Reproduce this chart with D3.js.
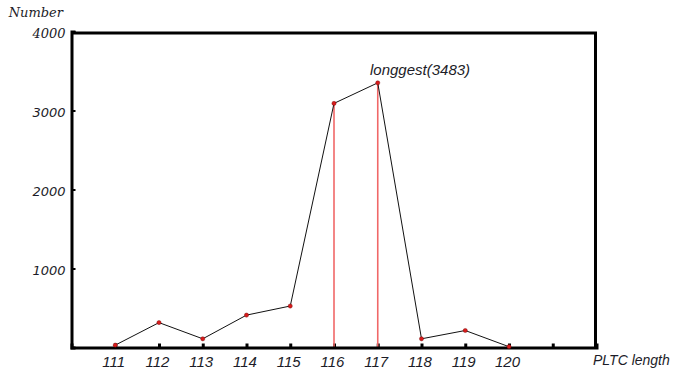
<!DOCTYPE html>
<html>
<head>
<meta charset="utf-8">
<script src="https://cdn.jsdelivr.net/npm/d3@7"></script>
<style>
  html, body { margin: 0; padding: 0; background: #fff; }
  svg { display: block; }
</style>
</head>
<body>
<svg id="chart" width="689" height="373"></svg>
<script>
const lengths = [111, 112, 113, 114, 115, 116, 117, 118, 119, 120];
const counts  = [30, 315, 110, 410, 525, 3090, 3350, 110, 215, 10];
const highlighted = [116, 117];
const xTicks = [111, 112, 113, 114, 115, 116, 117, 118, 119, 120, 121];
const xTickLabels = ["111", "112", "113", "114", "115", "116", "117", "118", "119", "120", ""];
const yTicks = [1000, 2000, 3000, 4000];
const peakLabel = "longgest(3483)";
const yTitle = "Number";
const xTitle = "PLTC length";

const svg = d3.select("#chart");
const x = d3.scaleLinear().domain([110, 122]).range([71.5, 596.5]);
const y = d3.scaleLinear().domain([0, 4000]).range([347.5, 31.5]);
const txt = "#1c1c28";

// frame top + right
svg.append("path")
  .attr("d", `M${x(110)},33 H595.5 V${y(0)}`)
  .attr("fill", "none").attr("stroke", "#000").attr("stroke-width", 3);

// y axis
const yAx = svg.append("g").attr("transform", `translate(${x(110)},0)`)
  .call(d3.axisLeft(y).tickValues(yTicks).tickSize(-4).tickPadding(10).tickFormat(d3.format("d")));
yAx.select(".domain").attr("stroke", "#000").attr("stroke-width", 3);
yAx.selectAll(".tick line").attr("stroke", "#000").attr("stroke-width", 2);
yAx.selectAll(".tick text")
  .attr("fill", txt)
  .attr("x", -6)
  .attr("dy", "0.45em")
  .style("font-family", d => d === 4000 ? "'DejaVu Serif', serif" : "'DejaVu Sans', sans-serif")
  .style("font-style", "italic")
  .style("font-size", "13px");

// x axis
const xAx = svg.append("g").attr("transform", `translate(0,${y(0)})`)
  .call(d3.axisBottom(x).tickValues(xTicks).tickSize(-4).tickPadding(0)
    .tickFormat((d, i) => xTickLabels[i]));
xAx.select(".domain").attr("stroke", "#000").attr("stroke-width", 3);
xAx.selectAll(".tick line").attr("stroke", "#000").attr("stroke-width", 3);
xAx.selectAll(".tick text")
  .attr("fill", txt)
  .attr("y", 19.5).attr("dy", 0).attr("dx", -2)
  .style("font-family", "'Liberation Sans', Arial, sans-serif")
  .style("font-style", "italic")
  .style("font-size", "15px");

// red drop lines
svg.append("g").selectAll("line")
  .data(lengths.map((l, i) => ({ l, v: counts[i] })).filter(d => highlighted.includes(d.l)))
  .join("line")
  .attr("x1", d => x(d.l)).attr("x2", d => x(d.l))
  .attr("y1", d => y(d.v)).attr("y2", y(0) - 1)
  .attr("stroke", "#f06868").attr("stroke-width", 1.6);

// line
const data = lengths.map((l, i) => ({ l, v: counts[i] }));
svg.append("path")
  .datum(data)
  .attr("d", d3.line().x(d => x(d.l)).y(d => y(d.v)))
  .attr("fill", "none").attr("stroke", "#111").attr("stroke-width", 1);

// points
svg.append("g").selectAll("circle")
  .data(data).join("circle")
  .attr("cx", d => x(d.l)).attr("cy", d => y(d.v)).attr("r", 2.1)
  .attr("fill", "#d81c1c").attr("stroke", "#6a0000").attr("stroke-width", 0.4);

// titles
svg.append("text").text(yTitle)
  .attr("x", 63).attr("y", 17).attr("text-anchor", "end")
  .attr("fill", txt)
  .style("font-family", "'DejaVu Serif', serif").style("font-style", "italic")
  .style("font-size", "13px");

svg.append("text").text(xTitle)
  .attr("x", 593).attr("y", 365)
  .attr("fill", txt)
  .style("font-family", "'Liberation Sans', Arial, sans-serif").style("font-style", "italic")
  .style("font-size", "14px");

svg.append("text").text(peakLabel)
  .attr("x", 370).attr("y", 75)
  .attr("fill", txt)
  .style("font-family", "'Liberation Sans', Arial, sans-serif").style("font-style", "italic")
  .style("font-size", "15px");
</script>
</body>
</html>
